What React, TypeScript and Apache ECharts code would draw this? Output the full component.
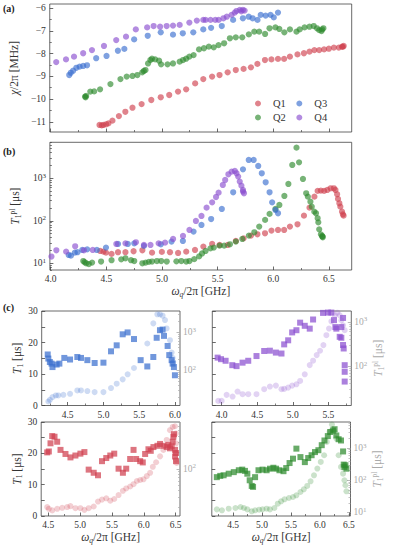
import React, { useEffect, useRef } from 'react';
import * as echarts from 'echarts';

// ---------- Panel (a): dispersive shift chi/2pi [MHz] vs omega_q/2pi [GHz]
const chiQ1 = [[4.44,-11.14],[4.46,-11.16],[4.475,-11.14],[4.5,-11.11],[4.52,-11.07],[4.556,-10.95],[4.614,-10.75],[4.672,-10.56],[4.736,-10.38],[4.818,-10.22],[4.905,-10.04],[4.99,-9.92],[5.066,-9.82],[5.145,-9.67],[5.218,-9.57],[5.299,-9.31],[5.372,-9.12],[5.451,-9.01],[5.518,-8.94],[5.591,-8.82],[5.664,-8.72],[5.734,-8.67],[5.8,-8.6],[5.858,-8.45],[5.926,-8.28],[5.984,-8.25],[6.043,-8.23],[6.098,-8.23],[6.15,-8.13],[6.218,-8.03],[6.276,-7.98],[6.326,-7.91],[6.37,-7.84],[6.413,-7.84],[6.457,-7.81],[6.5,-7.78],[6.545,-7.73],[6.589,-7.73],[6.618,-7.69],[6.633,-7.66],[6.625,-7.7]];
const chiQ2 = [[4.31,-9.89],[4.315,-9.92],[4.32,-9.86],[4.357,-9.67],[4.392,-9.66],[4.445,-9.57],[4.538,-9.34],[4.628,-9.12],[4.684,-9.01],[4.736,-8.98],[4.78,-8.94],[4.824,-8.82],[4.838,-8.76],[4.853,-8.72],[4.876,-8.43],[4.897,-8.28],[4.911,-8.22],[4.94,-8.25],[4.975,-8.31],[4.993,-8.47],[5.051,-8.47],[5.1,-8.43],[5.16,-8.35],[5.19,-8.28],[5.218,-8.22],[5.247,-8.13],[5.285,-8.06],[5.334,-7.81],[5.378,-7.76],[5.422,-7.69],[5.466,-7.72],[5.509,-7.62],[5.559,-7.54],[5.611,-7.32],[5.664,-7.28],[5.722,-7.28],[5.781,-7.15],[5.83,-7.03],[5.874,-7.03],[5.927,-7.13],[5.967,-6.88],[6.02,-6.84],[6.055,-6.91],[6.1,-7.06],[6.15,-6.93],[6.209,-7.03],[6.238,-6.93],[6.282,-6.84],[6.326,-6.81],[6.364,-6.78],[6.393,-6.88],[6.413,-6.96],[6.434,-7.0],[6.451,-6.88],[6.44,-6.93]];
const chiQ3 = [[4.168,-8.94],[4.182,-8.84],[4.203,-8.75],[4.232,-8.62],[4.261,-8.57],[4.293,-8.54],[4.328,-8.51],[4.41,-8.2],[4.503,-8.1],[4.605,-7.87],[4.663,-7.79],[4.751,-7.37],[4.873,-7.21],[4.99,-7.06],[5.1,-7.16],[5.188,-7.1],[5.282,-7.06],[5.372,-6.93],[5.442,-6.86],[5.538,-6.78],[5.64,-6.51],[5.728,-6.44],[5.78,-6.37],[5.815,-6.44],[5.859,-6.51],[5.888,-6.29],[5.932,-6.32],[5.976,-6.29],[6.005,-6.4],[6.043,-6.19]];
const chiQ4 = [[3.99,-8.43],[4.051,-8.37],[4.139,-8.25],[4.211,-8.13],[4.293,-7.98],[4.372,-7.84],[4.48,-7.66],[4.59,-7.4],[4.678,-7.25],[4.766,-6.93],[4.868,-6.84],[4.926,-6.78],[4.984,-6.81],[5.043,-6.78],[5.1,-6.76],[5.16,-6.73],[5.247,-6.63],[5.314,-6.54],[5.372,-6.51],[5.393,-6.51],[5.437,-6.51],[5.48,-6.51],[5.51,-6.51],[5.553,-6.44],[5.583,-6.37],[5.626,-6.29],[5.655,-6.19],[5.67,-6.12],[5.7,-6.07],[5.714,-6.13],[5.728,-6.07],[5.743,-6.1]];

// ---------- Panel (b): T1^pl [us] (log)
const t1plQ1 = [[4.445,19.5],[4.474,18.8],[4.497,17.8],[4.547,16.6],[4.605,18.2],[4.672,18.2],[4.745,19.2],[4.824,20.2],[4.911,17.8],[4.999,18.5],[5.072,18.2],[5.145,17.5],[5.218,18.8],[5.297,20.6],[5.372,24.7],[5.451,28.5],[5.518,27],[5.591,27],[5.664,33.5],[5.734,38.7],[5.8,44.8],[5.858,48.1],[5.926,50.8],[5.984,58.7],[6.043,60.8],[6.098,60.8],[6.15,73],[6.218,82.8],[6.276,132],[6.326,204],[6.37,370],[6.399,504],[6.428,513],[6.457,504],[6.486,531],[6.516,582],[6.545,582],[6.559,531],[6.574,421],[6.582,327],[6.594,258],[6.603,215],[6.618,164],[6.626,142],[6.632,132]];
const t1plQ2 = [[4.293,11.3],[4.305,10.6],[4.319,10],[4.343,9.6],[4.372,10.4],[4.453,11],[4.547,11.8],[4.634,12.4],[4.672,13.1],[4.722,11.8],[4.751,11.3],[4.824,10],[4.853,10.4],[4.882,10.8],[4.911,11],[4.955,11.3],[4.993,11.3],[5.043,11],[5.13,11.1],[5.174,11.3],[5.218,11],[5.247,11.3],[5.29,12.5],[5.334,14.5],[5.36,17],[5.392,19.5],[5.436,22.5],[5.466,23.4],[5.518,26],[5.559,26],[5.611,28],[5.664,32.4],[5.722,37.4],[5.781,44.8],[5.83,53.6],[5.874,73],[5.927,105],[5.967,145],[6.02,190],[6.055,236],[6.1,384],[6.136,736],[6.171,2060],[6.209,5250],[6.232,2377],[6.267,964],[6.296,444],[6.311,370],[6.334,282],[6.346,215],[6.369,164],[6.384,150],[6.399,115],[6.405,92],[6.413,63],[6.428,48],[6.442,42.4],[6.44,44],[6.445,41]];
const t1plQ3 = [[4.162,15.7],[4.182,15.1],[4.217,17.8],[4.241,18.2],[4.284,20.6],[4.328,21.3],[4.415,20.6],[4.497,23.4],[4.605,28.5],[4.693,28.5],[4.751,29.5],[4.838,25.6],[4.99,28],[5.086,32.4],[5.188,33.5],[5.284,55.6],[5.355,79.8],[5.442,110],[5.538,190],[5.64,468],[5.728,1622],[5.78,2700],[5.824,2700],[5.865,1950],[5.897,1312],[5.932,805],[5.967,468],[5.99,272],[6.02,180],[6.043,150]];
const t1plQ4 = [[4.007,14.4],[4.051,20.2],[4.139,18.8],[4.22,25.1],[4.299,20.2],[4.378,20.6],[4.59,28.5],[4.672,29.5],[4.766,31.2],[4.838,27],[4.897,27],[4.97,29.5],[5.028,30.6],[5.1,37.4],[5.189,44],[5.247,60.8],[5.305,99],[5.355,130],[5.401,204],[5.451,272],[5.486,363],[5.509,460],[5.547,697],[5.568,912],[5.597,1242],[5.626,1435],[5.655,1489],[5.67,1312],[5.685,1096],[5.699,835],[5.714,671],[5.728,531],[5.737,444],[5.728,486]];

// ---------- Panel (c): T1 [us] (squares, linear) and T1^pl [us] (circles, log)
const cQ3T1 = [[4.221,16.2],[4.23,14.9],[4.251,13.8],[4.274,13.3],[4.288,12.2],[4.346,13.0],[4.384,13.3],[4.453,15.1],[4.533,14.6],[4.635,15.4],[4.686,15.1],[4.775,14.4],[4.877,13.5],[5.0,13.6],[5.106,17.2],[5.185,19.1],[5.269,22.6],[5.338,23.2],[5.427,21.1],[5.52,14.4],[5.613,12.4],[5.697,15.4],[5.744,21.5],[5.79,23.9],[5.827,24.1],[5.846,22.1],[5.897,18.9],[5.92,16.0],[5.953,14.4],[5.967,13.3],[5.985,12.2],[5.999,9.6]];
const cQ3Pl = [[4.23,15],[4.251,16.6],[4.288,19.6],[4.335,21.7],[4.37,21.7],[4.44,22.6],[4.533,24],[4.635,29.4],[4.686,29.4],[4.775,28.3],[4.877,26.6],[5.0,26.6],[5.106,34],[5.185,44.3],[5.269,57.7],[5.338,78.3],[5.427,115],[5.613,510],[5.697,1735],[5.753,3006],[5.79,3006],[5.827,2770],[5.86,2120],[5.883,1276],[5.93,625],[5.953,294],[5.967,212],[5.976,166]];
const cQ4T1 = [[3.944,15.2],[3.991,14.7],[4.056,14.2],[4.15,12.8],[4.21,12.5],[4.294,13.6],[4.374,14.2],[4.49,15.7],[4.598,17.3],[4.678,17.4],[4.762,16.8],[4.841,16.5],[4.879,19.4],[4.935,20.7],[4.991,23.2],[5.051,23.9],[5.103,26.3],[5.168,25.3],[5.238,24.4],[5.285,27.3],[5.425,29.4],[5.495,29.5],[5.542,29.5],[5.579,27.1],[5.598,24.9],[5.612,24.4],[5.659,21.8],[5.682,24.9],[5.706,27.8],[5.682,21.5],[5.706,19.2],[5.715,18.1],[5.729,12.8],[5.729,10.7],[5.729,7.6]];
const cQ4Pl = [[3.953,16.2],[4.0,16.2],[4.07,22.2],[4.154,20.3],[4.224,26.4],[4.294,23],[4.374,23],[4.49,23],[4.598,29.8],[4.678,34.2],[4.762,36],[4.841,29.8],[4.879,30.3],[4.935,32.4],[4.991,36],[5.051,38.5],[5.103,45.9],[5.168,64.9],[5.238,105],[5.285,132],[5.336,177],[5.383,222],[5.43,298],[5.472,500],[5.509,708],[5.542,1035],[5.589,1413],[5.626,1622],[5.659,1413],[5.682,1091],[5.706,841],[5.729,649]];
const cQ1T1 = [[4.484,20.3],[4.51,20.6],[4.536,23.2],[4.563,25.5],[4.599,25.3],[4.641,23.7],[4.693,21.1],[4.771,19.8],[4.849,18.7],[4.927,19.3],[5.005,19.9],[5.068,20.4],[5.135,14.8],[5.214,13.8],[5.281,13.0],[5.344,17.5],[5.411,18.5],[5.474,19.3],[5.536,19.9],[5.604,15.1],[5.672,13.8],[5.724,15.1],[5.786,18.2],[5.839,21.1],[5.88,18.2],[5.943,17.5],[5.984,17.1],[6.021,19.8],[6.073,21.3],[6.109,20.8],[6.151,22.0],[6.214,22.4],[6.255,23.0],[6.307,22.4],[6.359,22.0],[6.385,22.7],[6.411,21.6],[6.438,22.2],[6.453,23.7],[6.464,25.3],[6.474,26.1],[6.49,21.1],[6.49,19.0],[6.505,20.1],[6.505,17.5]];
const cQ1Pl = [[4.484,20],[4.51,18.6],[4.563,17.4],[4.641,18.6],[4.719,19.4],[4.797,20],[4.849,20.8],[4.927,19.1],[5.005,19.1],[5.068,17.8],[5.135,19.1],[5.214,20.5],[5.281,25.2],[5.344,27.4],[5.411,28.9],[5.474,26.2],[5.536,28.1],[5.604,33.2],[5.672,39.7],[5.724,43.8],[5.786,47.5],[5.839,52.4],[5.891,60],[5.943,62.5],[5.995,64.3],[6.047,73.8],[6.099,84.7],[6.141,109],[6.193,132],[6.255,169],[6.307,222],[6.359,337],[6.411,509],[6.453,583],[6.49,600],[6.505,444],[6.505,293],[6.505,194],[6.505,147],[6.516,128]];
const cQ2T1 = [[4.219,12.4],[4.278,12.8],[4.336,13.0],[4.424,13.5],[4.512,14.0],[4.599,14.6],[4.658,14.8],[4.705,14.4],[4.746,13.5],[4.787,11.4],[4.822,9.6],[4.845,9.3],[4.88,12.4],[4.939,14.6],[5.009,14.8],[5.079,14.6],[5.137,15.1],[5.196,15.4],[5.243,15.1],[5.301,14.6],[5.371,14.3],[5.418,15.3],[5.476,16.9],[5.535,18.3],[5.594,21.5],[5.664,18.8],[5.74,17.2],[5.798,18.5],[5.857,19.4],[5.915,20.4],[5.974,21.0],[6.032,22.6],[6.079,24.1],[6.137,25.5],[6.178,26.8],[6.225,27.3],[6.254,27.7],[6.284,25.7],[6.324,24.5],[6.365,24.1],[6.401,20.6],[6.412,16.4],[6.424,15.6],[6.441,16.2],[6.459,15.1]];
const cQ2Pl = [[4.219,12.5],[4.307,11.7],[4.424,13.1],[4.541,13.8],[4.629,14.8],[4.687,13.8],[4.746,12.5],[4.822,10.9],[4.88,11.7],[4.95,12.2],[5.009,12.5],[5.079,13.1],[5.137,12.5],[5.213,13.8],[5.272,18.8],[5.33,22.2],[5.389,25.6],[5.465,28.2],[5.535,30.3],[5.594,34.2],[5.664,43.3],[5.722,52.5],[5.781,66.7],[5.839,93],[5.898,143],[5.956,231],[6.015,371],[6.073,599],[6.12,1556],[6.167,3184],[6.208,5380],[6.249,3334],[6.284,1972],[6.324,599],[6.365,260],[6.401,161],[6.424,100],[6.441,70],[6.459,45.5]];

// ---------- tick labels
const xTicksAB = [4.0, 4.5, 5.0, 5.5, 6.0, 6.5];
const yTicksA = [-11, -10, -9, -8, -7, -6];
const logDecadesB = [1, 2, 3];
const t1Ticks = [0, 10, 20, 30];

const FONT = "'Liberation Serif', 'DejaVu Serif', serif";
const RED = '#d0404f';
const GREEN = '#2e8b2e';
const BLUE = '#3a6fcf';
const PURPLE = '#8a4fd0';
const INK = '#333';
const GREY = '#aaa';

const lg = (pts: number[][]) => pts.map(([x, v]) => [x, Math.log10(v)]);
const steps = (a: number, b: number, st: number) => {
  const out: number[] = [];
  for (let v = a; v <= b + 1e-9; v += st) out.push(Math.round(v * 1000) / 1000);
  return out;
};
const within = (arr: number[], lo: number, hi: number) => arr.filter((v) => v >= lo - 1e-9 && v <= hi + 1e-9);
const logMinors = (lo: number, hi: number) => {
  const out: number[] = [];
  for (let d = 0; d <= 4; d++) for (let k = 2; k <= 9; k++) {
    const v = d + Math.log10(k);
    if (v > lo && v < hi) out.push(v);
  }
  return out;
};
const fmtLog = (v: number) => '10{e|' + Math.round(v) + '}';
const fmtMinus = (v: number) => (v < 0 ? '\u2212' + Math.abs(v) : String(v));
const fmt1 = (v: number) => v.toFixed(1);

const rich = {
  i: { fontStyle: 'italic', fontFamily: FONT, fontSize: 11.5 },
  sub: { fontFamily: FONT, fontSize: 7.5, padding: [6, 0, 0, 0] },
  subi: { fontFamily: FONT, fontSize: 7.5, fontStyle: 'italic', padding: [6, 0, 0, 0] },
  sup: { fontFamily: FONT, fontSize: 7.5, padding: [0, 0, 6, 0] },
};

const T1PL_NAME = '{i|T}{sub|1}{sup|pl} [\u03bcs]';
const T1_NAME = '{i|T}{sub|1} [\u03bcs]';
const OMEGA_NAME = '{i|\u03c9}{subi|q}/2\u03c0 [GHz]';
const CHI_NAME = '{i|\u03c7}/2\u03c0 [MHz]';

function axisPair(s: any) {
  const tickColor = s.tickColor || '#444';
  const labelColor = s.labelColor || INK;
  const base: any = {
    type: 'value', gridIndex: s.grid, min: s.min, max: s.max, position: s.pos,
    splitLine: { show: false }, axisLine: { show: false, onZero: false },
  };
  const main: any = {
    ...base,
    axisTick: { show: true, inside: true, length: 3.5, customValues: s.major, lineStyle: { color: tickColor, width: 0.8 } },
    axisLabel: s.labels
      ? {
          show: true, customValues: s.labels, formatter: s.fmt, color: labelColor, fontFamily: FONT, fontSize: 9.5, margin: s.margin ?? 4,
          rich: { e: { fontFamily: FONT, fontSize: 7, color: labelColor, padding: [0, 0, 5, 0] } },
        }
      : { show: false },
    name: s.name || '',
    nameLocation: 'middle',
    nameGap: s.nameGap ?? 15,
    nameRotate: s.nameRotate,
    nameTextStyle: { fontFamily: FONT, fontSize: 11.5, color: s.nameColor || INK, rich },
  };
  const minor: any = {
    ...base,
    axisTick: s.minor && s.minor.length
      ? { show: true, inside: true, length: 2, customValues: s.minor, lineStyle: { color: tickColor, width: 0.7 } }
      : { show: false },
    axisLabel: { show: false },
  };
  return [main, minor];
}

function buildOption() {
  const xAxis: any[] = [];
  const yAxis: any[] = [];
  const add = (list: any[], spec: any) => { const i = list.length; list.push(...axisPair(spec)); return i; };

  const grid = [
    { left: 41.7, top: 4, width: 310, height: 128 },
    { left: 41.7, top: 142.3, width: 310, height: 127.7 },
    { left: 41.7, top: 311, width: 138.3, height: 94.5 },
    { left: 212.3, top: 311, width: 139, height: 94.5 },
    { left: 41.2, top: 422, width: 138.8, height: 95.3 },
    { left: 211.8, top: 422, width: 138.7, height: 95.3 },
  ].map((g) => ({ ...g, show: true, borderColor: '#444', borderWidth: 0.8, backgroundColor: 'transparent' }));

  const xMinorAB = within(steps(4.25, 6.75, 0.5), 3.993, 6.705);
  const axA = add(xAxis, { grid: 0, min: 3.993, max: 6.705, major: xTicksAB, minor: xMinorAB, pos: 'bottom' });
  const ayA = add(yAxis, { grid: 0, min: -11.45, max: -5.81, major: yTicksA, minor: within(steps(-11.5, -5.5, 1), -11.45, -5.81), labels: yTicksA, fmt: fmtMinus, pos: 'left', name: CHI_NAME, nameGap: 21, nameRotate: 90 });
  const bMin = 0.842, bMax = 3.847;
  const axB = add(xAxis, { grid: 1, min: 3.993, max: 6.705, major: xTicksAB, minor: xMinorAB, labels: xTicksAB, fmt: fmt1, pos: 'bottom', name: OMEGA_NAME, nameGap: 14 });
  const ayB = add(yAxis, { grid: 1, min: bMin, max: bMax, major: logDecadesB, minor: logMinors(bMin, bMax), labels: logDecadesB, fmt: fmtLog, pos: 'left', name: T1PL_NAME, nameGap: 20, nameRotate: 90 });

  const cPanel = (g: number, xmin: number, xmax: number, rmin: number, rmax: number, opts: any) => {
    const majors = within(steps(4.0, 6.5, 0.5), xmin, xmax);
    const minors = within(steps(3.75, 6.75, 0.5), xmin, xmax);
    const xi = add(xAxis, { grid: g, min: xmin, max: xmax, major: majors, minor: minors, labels: majors, fmt: fmt1, pos: 'bottom', name: opts.xName ? OMEGA_NAME : '', nameGap: 14 });
    const yl = add(yAxis, { grid: g, min: 0, max: 30, major: steps(0, 30, 5), minor: [], labels: opts.leftLabels ? t1Ticks : null, fmt: (v: number) => String(v), pos: 'left', name: opts.leftLabels ? T1_NAME : '', nameGap: 15, nameRotate: 90 });
    const decades = within([1, 2, 3], rmin, rmax);
    const yr = add(yAxis, { grid: g, min: rmin, max: rmax, major: decades, minor: logMinors(rmin, rmax), labels: decades, fmt: fmtLog, pos: 'right', tickColor: GREY, labelColor: GREY, margin: 3, name: opts.rightName ? T1PL_NAME : '', nameColor: GREY, nameGap: 18, nameRotate: 90 });
    return { xi, yl, yr };
  };
  const tl = cPanel(2, 4.137, 6.07, 1.071, 3.566, { leftLabels: true });
  const tr = cPanel(3, 3.869, 5.822, 1.105, 3.248, { rightName: true });
  const bl = cPanel(4, 4.39, 6.568, 1.138, 2.856, { leftLabels: true, xName: true });
  const br = cPanel(5, 4.132, 6.529, 0.891, 3.81, { rightName: true, xName: true });

  const dot = (name: string, color: string, data: number[][], xi: number, yi: number) => ({
    type: 'scatter', name, data, xAxisIndex: xi, yAxisIndex: yi, symbol: 'circle', symbolSize: 6.2,
    itemStyle: { color, opacity: 0.65 }, emphasis: { disabled: true },
  });
  const sq = (color: string, data: number[][], xi: number, yi: number) => ({
    type: 'scatter', name: 'T1', data, xAxisIndex: xi, yAxisIndex: yi, symbol: 'rect', symbolSize: 6,
    itemStyle: { color, opacity: 0.72 }, emphasis: { disabled: true }, z: 3,
  });
  const pl = (color: string, data: number[][], xi: number, yi: number) => ({
    type: 'scatter', name: 'T1pl', data: lg(data), xAxisIndex: xi, yAxisIndex: yi, symbol: 'circle', symbolSize: 6,
    itemStyle: { color, opacity: 0.25 }, emphasis: { disabled: true }, z: 2,
  });

  const series = [
    dot('Q1', RED, chiQ1, axA, ayA),
    dot('Q2', GREEN, chiQ2, axA, ayA),
    dot('Q3', BLUE, chiQ3, axA, ayA),
    dot('Q4', PURPLE, chiQ4, axA, ayA),
    dot('Q1', RED, lg(t1plQ1), axB, ayB),
    dot('Q2', GREEN, lg(t1plQ2), axB, ayB),
    dot('Q3', BLUE, lg(t1plQ3), axB, ayB),
    dot('Q4', PURPLE, lg(t1plQ4), axB, ayB),
    pl(BLUE, cQ3Pl, tl.xi, tl.yr), sq(BLUE, cQ3T1, tl.xi, tl.yl),
    pl(PURPLE, cQ4Pl, tr.xi, tr.yr), sq(PURPLE, cQ4T1, tr.xi, tr.yl),
    pl(RED, cQ1Pl, bl.xi, bl.yr), sq(RED, cQ1T1, bl.xi, bl.yl),
    pl(GREEN, cQ2Pl, br.xi, br.yr), sq(GREEN, cQ2T1, br.xi, br.yl),
  ];

  const legendBase = {
    orient: 'horizontal', left: 255, itemWidth: 20, itemHeight: 6, itemGap: 10.5, icon: 'circle', padding: 0,
    selectedMode: false, textStyle: { fontFamily: FONT, fontSize: 10.5, color: INK },
  };

  return {
    animation: false,
    backgroundColor: '#fff',
    grid,
    xAxis,
    yAxis,
    series,
    legend: [
      { ...legendBase, top: 98, data: ['Q1', 'Q3'] },
      { ...legendBase, top: 112, data: ['Q2', 'Q4'] },
    ],
    graphic: [
      { type: 'text', left: 3, top: 3, style: { text: '(a)', font: `bold 10px ${FONT}`, fill: '#222' } },
      { type: 'text', left: 3, top: 146, style: { text: '(b)', font: `bold 10px ${FONT}`, fill: '#222' } },
      { type: 'text', left: 3, top: 302, style: { text: '(c)', font: `bold 10px ${FONT}`, fill: '#222' } },
    ],
  };
}

export default function App() {
  const ref = useRef<HTMLDivElement>(null);
  useEffect(() => {
    if (!ref.current) return;
    const chart = echarts.init(ref.current, null, { renderer: 'svg' });
    chart.setOption(buildOption() as any);
    return () => chart.dispose();
  }, []);
  return <div ref={ref} style={{ position: 'fixed', left: 0, top: 0, width: 397, height: 545, background: '#fff' }} />;
}
